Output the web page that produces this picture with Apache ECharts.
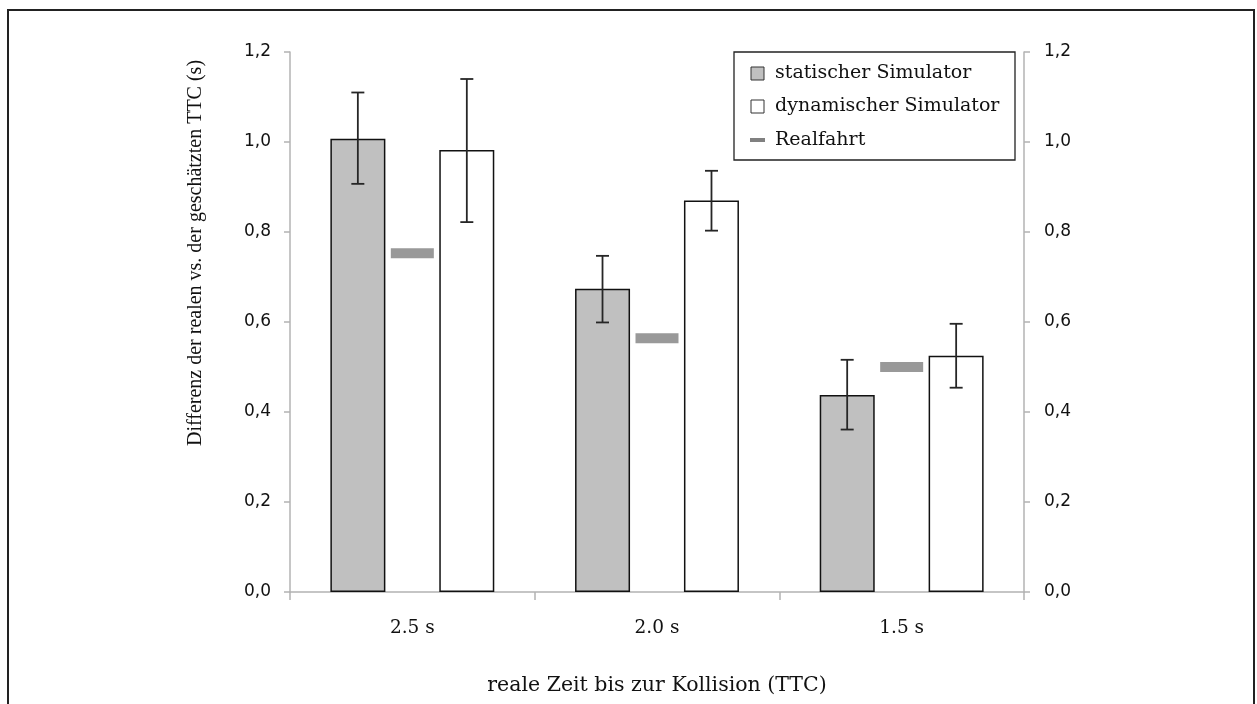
<!DOCTYPE html>
<html>
<head>
<meta charset="utf-8">
<script src="https://cdn.jsdelivr.net/npm/echarts@6/dist/echarts.min.js"></script>
<style>
  html, body { margin: 0; padding: 0; background: #fff; }
  #chart { width: 1257px; height: 704px; }
</style>
</head>
<body>
<div id="chart"></div>
<script>
  // Werte
  let categories = ['2.5 s', '2.0 s', '1.5 s']
  let staticMean = [1.007, 0.674, 0.438]
  let staticLow = [0.907, 0.599, 0.361]
  let staticHigh = [1.110, 0.747, 0.516]
  let dynamicMean = [0.982, 0.870, 0.525]
  let dynamicLow = [0.822, 0.803, 0.454]
  let dynamicHigh = [1.140, 0.936, 0.596]
  let realMean = [0.753, 0.564, 0.500]

  let serif = '"DejaVu Serif", "Liberation Serif", serif'
  let serifNarrow = '"Liberation Serif", serif'
  let sans = '"DejaVu Sans", sans-serif'
  let axisGrey = '#b3b3b3'

  function errData(low, high){
    let out = []
    for(var i=0;i<low.length;i++){
      out.push([i, low[i], high[i]])
    }
    return out
  }

  function errRender(offset){
    return function(params, api){
      let idx = api.value(0)
      let band = api.size([1, 0])[0]
      let x = api.coord([idx, 0])[0] + offset * band
      let yLo = api.coord([idx, api.value(1)])[1]
      let yHi = api.coord([idx, api.value(2)])[1]
      let cap = 6.5
      let st = { stroke: '#262626', lineWidth: 1.8 }
      return {
        type: 'group',
        children: [
          { type: 'line', shape: { x1: x, y1: yLo, x2: x, y2: yHi }, style: st },
          { type: 'line', shape: { x1: x - cap, y1: yHi, x2: x + cap, y2: yHi }, style: st },
          { type: 'line', shape: { x1: x - cap, y1: yLo, x2: x + cap, y2: yLo }, style: st }
        ]
      }
    }
  }

  let valueAxis = function(pos, margin){
    return {
      type: 'value',
      position: pos,
      min: 0,
      max: 1.2,
      interval: 0.2,
      axisLine: { show: true, lineStyle: { color: axisGrey, width: 1.5 } },
      axisTick: { show: true, inside: false, length: 6, lineStyle: { color: axisGrey, width: 1.5 } },
      splitLine: { show: false },
      axisLabel: {
        margin: margin,
        color: '#111',
        fontFamily: sans,
        fontSize: 17,
        formatter: function(v){ return v.toFixed(1).replace('.', ',') }
      }
    }
  }

  let chart = echarts.init(document.getElementById('chart'))
  let option = {
    animation: false,
    backgroundColor: '#fff',
    grid: { left: 290, right: 233, top: 52, bottom: 112 },
    xAxis: {
      type: 'category',
      data: categories,
      axisLine: { lineStyle: { color: axisGrey, width: 1.5 } },
      axisTick: { show: true, length: 8, lineStyle: { color: axisGrey, width: 1.5 } },
      axisLabel: { margin: 27, color: '#111', fontFamily: serif, fontSize: 18.5 },
      name: 'reale Zeit bis zur Kollision (TTC)',
      nameLocation: 'middle',
      nameGap: 83,
      nameTextStyle: { color: '#111', fontFamily: serif, fontSize: 20.5 }
    },
    yAxis: [valueAxis('left', 19), valueAxis('right', 20)],
    series: [
      {
        name: 'statischer Simulator',
        type: 'bar',
        data: staticMean,
        barWidth: 55,
        barGap: '98%',
        itemStyle: { color: '#c0c0c0', borderColor: '#111', borderWidth: 1.5 }
      },
      {
        name: 'dynamischer Simulator',
        type: 'bar',
        data: dynamicMean,
        barWidth: 55,
        itemStyle: { color: '#fff', borderColor: '#111', borderWidth: 1.5 }
      },
      {
        name: 'Realfahrt',
        type: 'scatter',
        data: realMean,
        symbol: 'rect',
        symbolSize: [43, 10],
        itemStyle: { color: '#808080' },
        z: 3
      },
      {
        type: 'custom',
        data: errData(staticLow, staticHigh),
        renderItem: errRender(-0.2227),
        z: 5
      },
      {
        type: 'custom',
        data: errData(dynamicLow, dynamicHigh),
        renderItem: errRender(0.2227),
        z: 5
      }
    ],
    graphic: [
      // Rahmen um die ganze Abbildung
      { type: 'rect', shape: { x: 8, y: 10, width: 1246, height: 720 }, style: { fill: 'none', stroke: '#222', lineWidth: 2 }, silent: true },
      // y-Achsentitel
      {
        type: 'text', x: 196, y: 253, rotation: Math.PI / 2,
        style: { text: 'Differenz der realen vs. der geschätzten TTC (s)', fontFamily: serifNarrow, fontSize: 20, fill: '#111', align: 'center', verticalAlign: 'middle' }
      },
      // Legende
      { type: 'rect', shape: { x: 734, y: 52, width: 281, height: 108 }, style: { fill: '#fff', stroke: '#222', lineWidth: 1.3 }, z: 10 },
      { type: 'rect', shape: { x: 751, y: 67, width: 13, height: 13 }, style: { fill: '#c0c0c0', stroke: '#333', lineWidth: 1 }, z: 11 },
      { type: 'text', x: 775, y: 73, style: { text: 'statischer Simulator', fontFamily: serif, fontSize: 19, fill: '#111', verticalAlign: 'middle' }, z: 11 },
      { type: 'rect', shape: { x: 751, y: 100, width: 13, height: 13 }, style: { fill: '#fff', stroke: '#333', lineWidth: 1 }, z: 11 },
      { type: 'text', x: 775, y: 106, style: { text: 'dynamischer Simulator', fontFamily: serif, fontSize: 19, fill: '#111', verticalAlign: 'middle' }, z: 11 },
      { type: 'rect', shape: { x: 750, y: 138, width: 15, height: 4 }, style: { fill: '#808080' }, z: 11 },
      { type: 'text', x: 775, y: 140, style: { text: 'Realfahrt', fontFamily: serif, fontSize: 19, fill: '#111', verticalAlign: 'middle' }, z: 11 }
    ]
  }
  chart.setOption(option)
  window.onresize = function () {
    chart.resize()
  }
</script>
</body>
</html>
